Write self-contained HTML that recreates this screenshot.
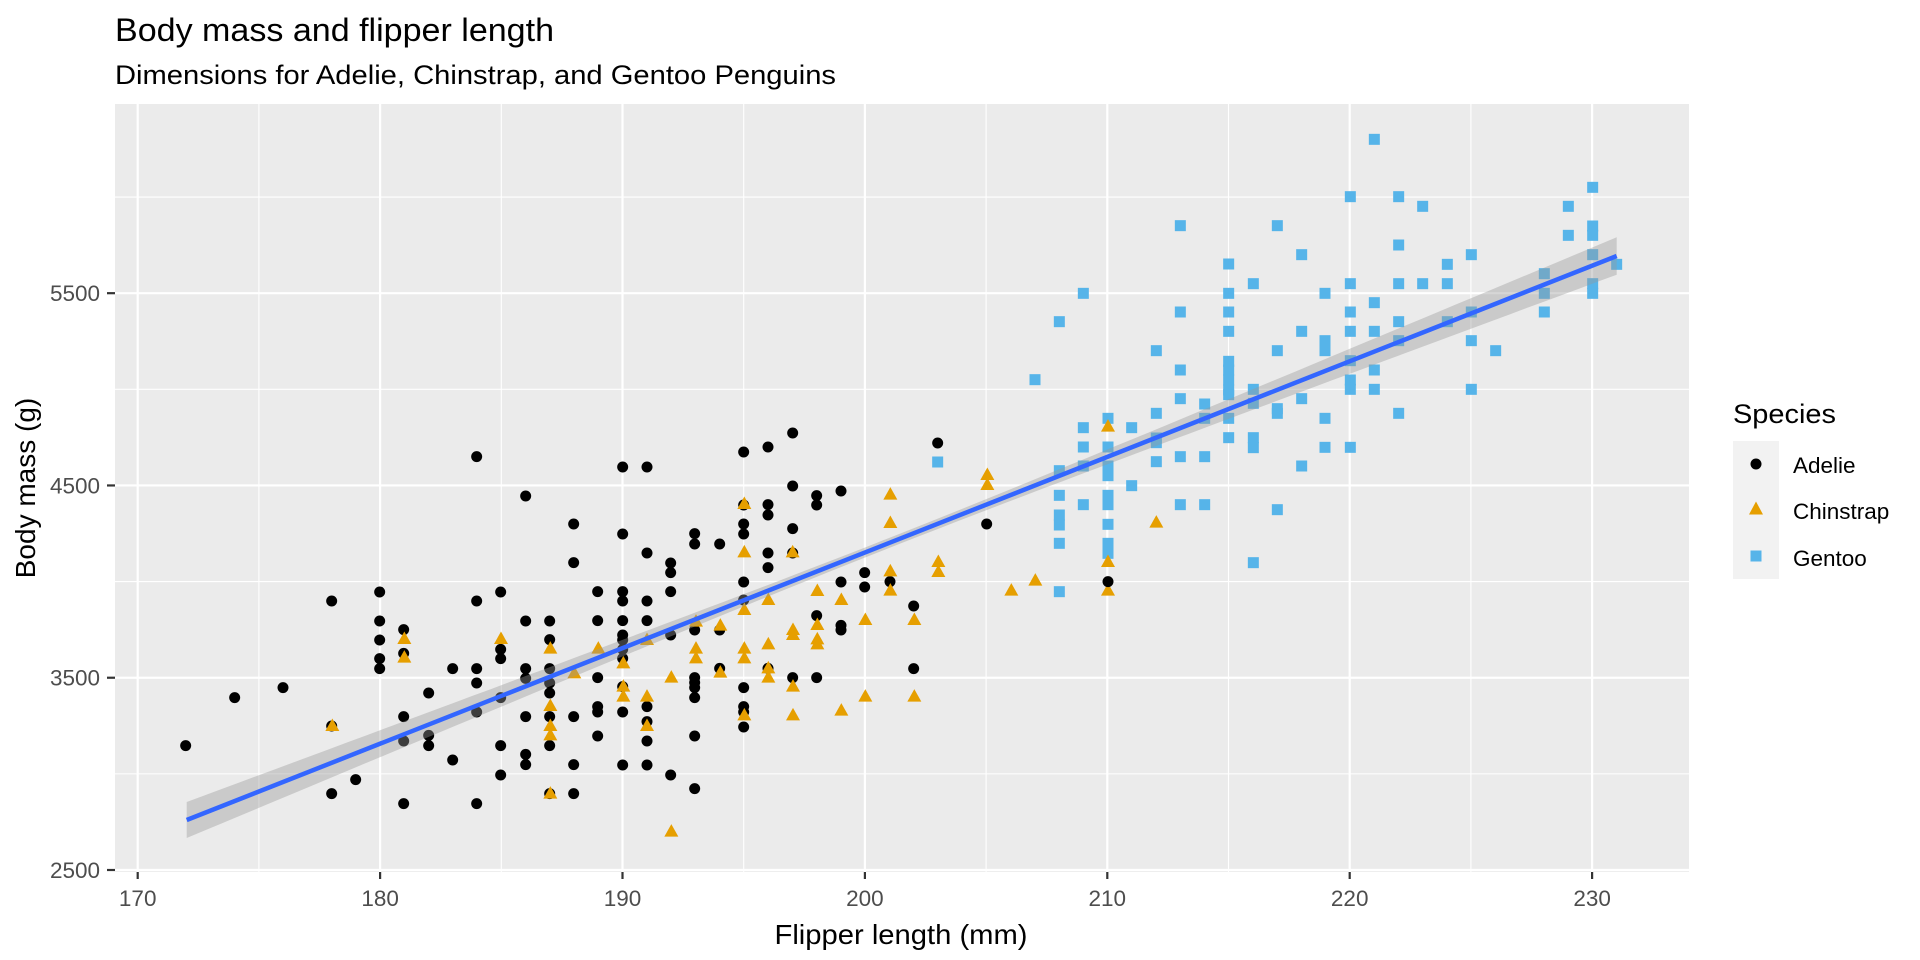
<!DOCTYPE html>
<html><head><meta charset="utf-8"><style>
html,body{margin:0;padding:0;background:#fff;width:1920px;height:960px;overflow:hidden}
svg{display:block;font-family:"Liberation Sans",Arial,sans-serif}
</style></head><body>
<svg id="s" width="1920" height="960" viewBox="0 0 1920 960" xmlns="http://www.w3.org/2000/svg">
<rect x="0" y="0" width="1920" height="960" fill="#fff"/>
<text x="115" y="41" font-size="32" fill="#000" textLength="439" lengthAdjust="spacingAndGlyphs">Body mass and flipper length</text>
<text x="115" y="84" font-size="27" fill="#000" textLength="721" lengthAdjust="spacingAndGlyphs">Dimensions for Adelie, Chinstrap, and Gentoo Penguins</text>
<rect x="115" y="104" width="1574" height="768" fill="#EBEBEB"/>
<g id="grid"></g>
<g id="pts"></g>
<g id="smooth"></g>
<g id="axes" fill="#4D4D4D" font-size="22.5"></g>
<text x="901" y="944" font-size="28" fill="#000" text-anchor="middle" textLength="253" lengthAdjust="spacingAndGlyphs">Flipper length (mm)</text>
<text transform="translate(35,488) rotate(-90)" font-size="28" fill="#000" text-anchor="middle">Body mass (g)</text>
<text x="1733" y="423" font-size="27" fill="#000" textLength="103" lengthAdjust="spacingAndGlyphs">Species</text>
<rect x="1733" y="441" width="46" height="138" fill="#F2F2F2"/>
<circle cx="1756" cy="464" r="5.5" fill="#000"/>
<polygon points="1756,501.5 1749,514.5 1763,514.5" fill="#E69F00"/>
<rect x="1750.5" y="550.5" width="11" height="11" fill="#56B4E9"/>
<text x="1793" y="473" font-size="22.5" fill="#000">Adelie</text>
<text x="1793" y="519" font-size="22.5" fill="#000">Chinstrap</text>
<text x="1793" y="566" font-size="22.5" fill="#000">Gentoo</text>
</svg>
<script>
var NS="http://www.w3.org/2000/svg";
function el(t,a,p){var e=document.createElementNS(NS,t);for(var k in a)e.setAttribute(k,a[k]);p.appendChild(e);return e;}
var X=function(mm){return 137.7+(mm-170)*24.24;};
var Y=function(g){return 870-(g-2500)*0.19227;};
var grid=document.getElementById('grid');
for(var m=175;m<=225;m+=10){el('line',{x1:X(m),x2:X(m),y1:104,y2:872,stroke:'#fff','stroke-width':1.1},grid);}
for(var g=3000;g<=6000;g+=1000){el('line',{x1:115,x2:1689,y1:Y(g),y2:Y(g),stroke:'#fff','stroke-width':1.1},grid);}
for(var m=170;m<=230;m+=10){el('line',{x1:X(m),x2:X(m),y1:104,y2:872,stroke:'#fff','stroke-width':2.2},grid);}
for(var g=2500;g<=5500;g+=1000){el('line',{x1:115,x2:1689,y1:Y(g),y2:Y(g),stroke:'#fff','stroke-width':2.2},grid);}
var ax=document.getElementById('axes');
for(var m=170;m<=230;m+=10){el('line',{x1:X(m),x2:X(m),y1:872,y2:879,stroke:'#333','stroke-width':2.2},ax);var t=el('text',{x:X(m),y:906,'text-anchor':'middle'},ax);t.textContent=m;}
for(var g=2500;g<=5500;g+=1000){el('line',{x1:107,x2:115,y1:Y(g),y2:Y(g),stroke:'#333','stroke-width':2.2},ax);var t=el('text',{x:100,y:Y(g)+8,'text-anchor':'end'},ax);t.textContent=g;}

var P=document.getElementById('pts');
function circ(ox,oy,l){for(var i=0;i<l.length;i+=2)el('circle',{cx:ox+l[i]/3,cy:oy+l[i+1]/3,r:5.5,fill:'#000'},P);}
function tri(ox,oy,l){for(var i=0;i<l.length;i+=2){var x=ox+l[i]/3,y=oy+l[i+1]/3;el('polygon',{points:x+','+(y-7.5)+' '+(x-7)+','+(y+5)+' '+(x+7)+','+(y+5),fill:'#E69F00'},P);}}
function sq(ox,oy,l){for(var i=0;i<l.length;i+=2)el('rect',{x:ox+l[i]/3-5.5,y:oy+l[i+1]/3-5.5,width:11,height:11,fill:'#56B4E9'},P);}
circ(170,420,[920,110,1067,228,1211,312,1211,428,485,543,629,516,920,543,992,516,629,603,701,629,629,660,701,700,629,716,629,746,992,688,992,716,848,746,920,746,1067,603,1139,603,1139,659,1067,746,1067,775,1139,746,1139,789,1139,819,920,789,776,819,339,803,194,833,992,833,920,876,701,890,1067,890,1139,890,1211,890,776,946,701,963,776,977,992,977,1139,977,47,977,1067,1003,1067,1034,1211,1034,848,1020,992,1065,557,1079,485,1121,1139,1121,1211,1121,701,1151,920,1151,485,918]);
tri(170,420,[703,657,703,713,993,657,1141,686,1213,760,1141,858,1141,918,1141,946,1141,1121,487,918]);
circ(580,400,[128,201,201,201,491,156,564,141,638,99,1073,129,638,258,710,287,710,315,783,273,491,315,564,314,564,345,491,372,491,402,638,386,128,402,344,401,344,432,419,432,201,459,564,459,638,459,564,503,272,489,272,518,491,546,272,575,53,575,128,575,128,603,201,603,783,546,854,518,854,561,930,545,1001,618,1220,372,53,662,128,662,201,662,710,647,783,676,783,690,128,705,128,720,272,705,344,690,419,690,128,748,128,775,491,600,53,833,344,833,344,848,344,863,344,893,419,805,564,805,638,833,710,833,1001,806,491,863,128,860,53,920,53,936,128,936,201,920,201,965,491,920,491,936,491,981,53,1008,201,1023,344,1008,128,1095,201,1095,272,1125,344,1166]);
tri(580,400,[493,312,1222,225,1222,255,931,284,931,369,493,457,638,457,1075,486,1075,516,931,514,931,572,712,573,784,600,565,600,493,630,856,660,1003,660,348,665,421,677,639,690,639,705,712,675,712,718,712,733,55,746,201,720,348,746,348,775,493,746,493,775,565,733,130,790,274,833,421,818,565,805,565,833,639,860,130,860,130,890,201,890,856,890,1003,890,784,932,639,946,493,946,201,978,274,1295]);
sq(580,400,[1073,186]);
sq(990,100,[571,377,862,377,935,464,716,492,790,551,1005,580,280,580,716,580,571,636,716,636,208,665,716,694,935,694,499,752,862,752,1005,722,1005,752,135,839,571,810,716,784,716,810,716,840,716,870,716,884,790,868,790,910,571,896,644,912,935,896,862,926,862,940,499,940,354,955,644,955,716,955,1005,955,280,983,425,983,716,1013,790,1013,790,1043,1005,1042,280,1041,354,1041,499,1014,499,1028,354,1098,354,1127,208,1112,280,1098,499,1085,571,1070,644,1070,935,1098,425,1157,208,1186,280,1214,354,1186,354,1214,571,1214,644,1214,862,1229,208,1245,208,1275,354,1273,208,1330,354,1330,354,1360,790,1388,208,1475]);
tri(990,100,[354,980,499,1268,354,1386,136,1442,64,1472,354,1472]);
circ(990,100,[354,1445]);
sq(1320,100,[163,118,91,290,236,290,308,319,745,319,818,262,745,406,818,378,818,406,236,435,454,464,382,493,818,464,890,493,91,551,236,551,308,551,382,551,673,521,673,580,818,551,818,580,163,608,91,636,454,636,673,636,236,665,382,665,91,694,163,694,236,722,454,722,527,752,91,782,163,810,91,840,91,868,163,868,454,868,236,940,91,1042]);

var S=document.getElementById('smooth');
var x0=186.7,x1=1616.7,xm=887;
function ly(x){return 820+(x-x0)*(256-820)/(x1-x0);}
function hw(x){return Math.sqrt(25+6.1e-4*(x-xm)*(x-xm));}
var up=[],dn=[];
for(var i=0;i<=80;i++){var x=x0+(x1-x0)*i/80;up.push(x.toFixed(1)+','+(ly(x)-hw(x)).toFixed(1));dn.unshift(x.toFixed(1)+','+(ly(x)+hw(x)).toFixed(1));}
el('polygon',{points:up.concat(dn).join(' '),fill:'#999999','fill-opacity':0.4},S);
el('line',{x1:x0,y1:ly(x0),x2:x1,y2:ly(x1),stroke:'#3366FF','stroke-width':4.5},S);
</script>
</body></html>
